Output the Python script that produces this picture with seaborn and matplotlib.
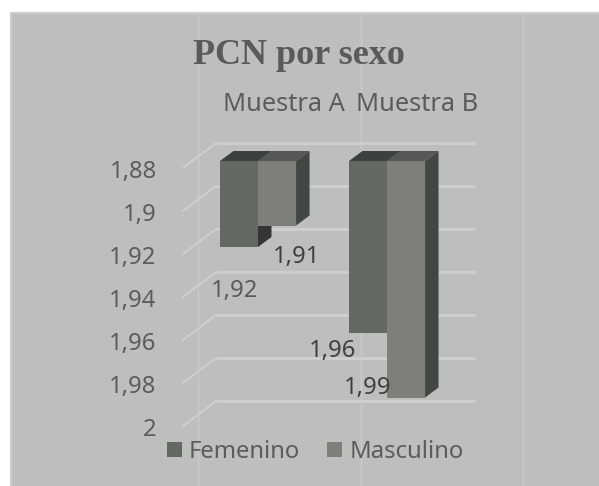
import matplotlib
matplotlib.use("Agg")
import matplotlib.pyplot as plt
from matplotlib.lines import Line2D
from matplotlib.patches import Polygon, Rectangle
from matplotlib.transforms import Affine2D
import pandas as pd
import seaborn as sns

samples = ["Muestra A", "Muestra B"]
femenino = [1.92, 1.96]
masculino = [1.91, 1.99]
series_names = ["Femenino", "Masculino"]
tick_values = [1.88, 1.90, 1.92, 1.94, 1.96, 1.98, 2.00]
tick_labels = ["1,88", "1,9", "1,92", "1,94", "1,96", "1,98", "2"]
title_text = "PCN por sexo"

W, H = 599, 486
BG = "#BEBEBE"
LINE = "#CFCFCF"
TEXT = "#5C5C5C"
FRONT = {"Femenino": "#656765", "Masculino": "#7E7E7C"}
TOP = {"Femenino": "#3E4040", "Masculino": "#565756"}
SIDE = {"Femenino": "#343534", "Masculino": "#444645"}
FONT = "Noto Sans"

df = pd.DataFrame({
    "muestra": samples * 2,
    "sexo": [series_names[0]] * 2 + [series_names[1]] * 2,
    "pcn": femenino + masculino,
})

sns.set_style("white")
plt.rcParams["font.family"] = [FONT, "DejaVu Sans"]

fig = plt.figure(figsize=(W / 100, H / 100), dpi=100, facecolor="white")
fig.add_artist(Rectangle((10 / W, 0), 1 - 10 / W, 1 - 13 / H, transform=fig.transFigure,
                         facecolor=BG, edgecolor="none", zorder=-10))
fig.add_artist(Line2D([10.5 / W, 10.5 / W, 1], [0, 1 - 13.5 / H, 1 - 13.5 / H],
                      transform=fig.transFigure, color="#CDCDCD", lw=1.6, zorder=-9))
for vx in (198, 361, 523):
    fig.add_artist(Line2D([vx / W, vx / W], [0, 1 - 14 / H], transform=fig.transFigure,
                          color="#CBCBCB", lw=1.0, zorder=-8))

# Axes: front plane of the bars
left, right, top, bottom = 183, 475, 161, 419
ax = fig.add_axes([left / W, 1 - bottom / H, (right - left) / W, (bottom - top) / H])
ax.patch.set_visible(False)
sns.barplot(data=df, x="muestra", y="pcn", hue="sexo", palette=FRONT, hue_order=series_names,
            order=samples, width=0.59, gap=0, errorbar=None, legend=False, saturation=1, ax=ax)

step = 129
xmin = (left - 258) / step
xmax = (right - 258) / step
ax.set_xlim(xmin, xmax)
ax.set_ylim(2.0, 1.88)
ppy = (bottom - top) / 0.12
ax.set_xlabel("")
ax.set_ylabel("")
for s in ax.spines.values():
    s.set_visible(False)
ax.grid(False)

# Walls and depth ticks, in the axes' own data units
wall_dx = 33 / step
wall_up = 18 / ppy
tick_down = 7 / ppy
for v in tick_values:
    ax.plot([xmin + wall_dx, xmax], [v - wall_up, v - wall_up], color=LINE, lw=2.0,
            clip_on=False, zorder=1, solid_capstyle="butt")
    ax.plot([xmin, xmin + wall_dx], [v + tick_down, v - wall_up], color=LINE, lw=1.4,
            clip_on=False, zorder=1)

# 3D faces built from each bar
dx = 13.5 / step
dy = 10 / ppy
for name, cont in zip(series_names, ax.containers):
    for bar, val in zip(cont, cont.datavalues):
        bar.set_zorder(4)
        bar.set_edgecolor("none")
        x0 = bar.get_x()
        x1 = x0 + bar.get_width()
        ax.add_patch(Polygon([(x1, 1.88), (x1 + dx, 1.88 - dy), (x1 + dx, val - dy), (x1, val)],
                             closed=True, facecolor=SIDE[name], edgecolor="none", zorder=3,
                             clip_on=False))
        ax.add_patch(Polygon([(x0, 1.88), (x0 + dx, 1.88 - dy), (x1 + dx, 1.88 - dy), (x1, 1.88)],
                             closed=True, facecolor=TOP[name], edgecolor="none", zorder=3.5,
                             clip_on=False))

# Axis text
ax.set_yticks(tick_values)
ax.set_yticklabels(tick_labels, fontsize=17.2, color=TEXT)
ax.xaxis.tick_top()
ax.set_xticks(range(len(samples)))
ax.set_xticklabels(samples, fontsize=18.3, color=TEXT)
ax.tick_params(axis="y", length=0, pad=19)
ax.tick_params(axis="x", length=0, pad=32)
for lab in ax.get_yticklabels():
    lab.set_transform(lab.get_transform() + Affine2D().translate(0, -8))
for lab, shift in zip(ax.get_xticklabels(), (25.5, 30)):
    lab.set_transform(lab.get_transform() + Affine2D().translate(shift, 0))

# Data labels
offsets = {"Femenino": [(-4, -44), (-35, -18)], "Masculino": [(20, -31), (-38, 10)]}
colors = {"Femenino": ["#5C5C5C", "#404040"], "Masculino": ["#404040", "#404040"]}
for name, cont in zip(series_names, ax.containers):
    for bar, val, off, col in zip(cont, cont.datavalues, offsets[name], colors[name]):
        ax.annotate(f"{val:.2f}".replace(".", ","), (bar.get_x() + bar.get_width() / 2, val),
                    xytext=off, textcoords="offset pixels", ha="center", va="center",
                    fontsize=17.2, color=col, zorder=6, annotation_clip=False)

fig.text(298.5 / W, 1 - 56 / H, title_text, family="Liberation Serif", weight="bold",
         fontsize=26, color="#5A5A5A", ha="center", va="center")

handles = [Rectangle((0, 0), 1, 1, facecolor=FRONT[n], edgecolor="none") for n in series_names]
fig.legend(handles, series_names, ncol=2, frameon=False, loc="center",
           bbox_to_anchor=(315 / W, 1 - 452 / H), fontsize=17.2, labelcolor=TEXT,
           handlelength=0.63, handleheight=0.63, handletextpad=0.3, columnspacing=1.13)

fig.savefig("out.png", dpi=100, facecolor="white")
